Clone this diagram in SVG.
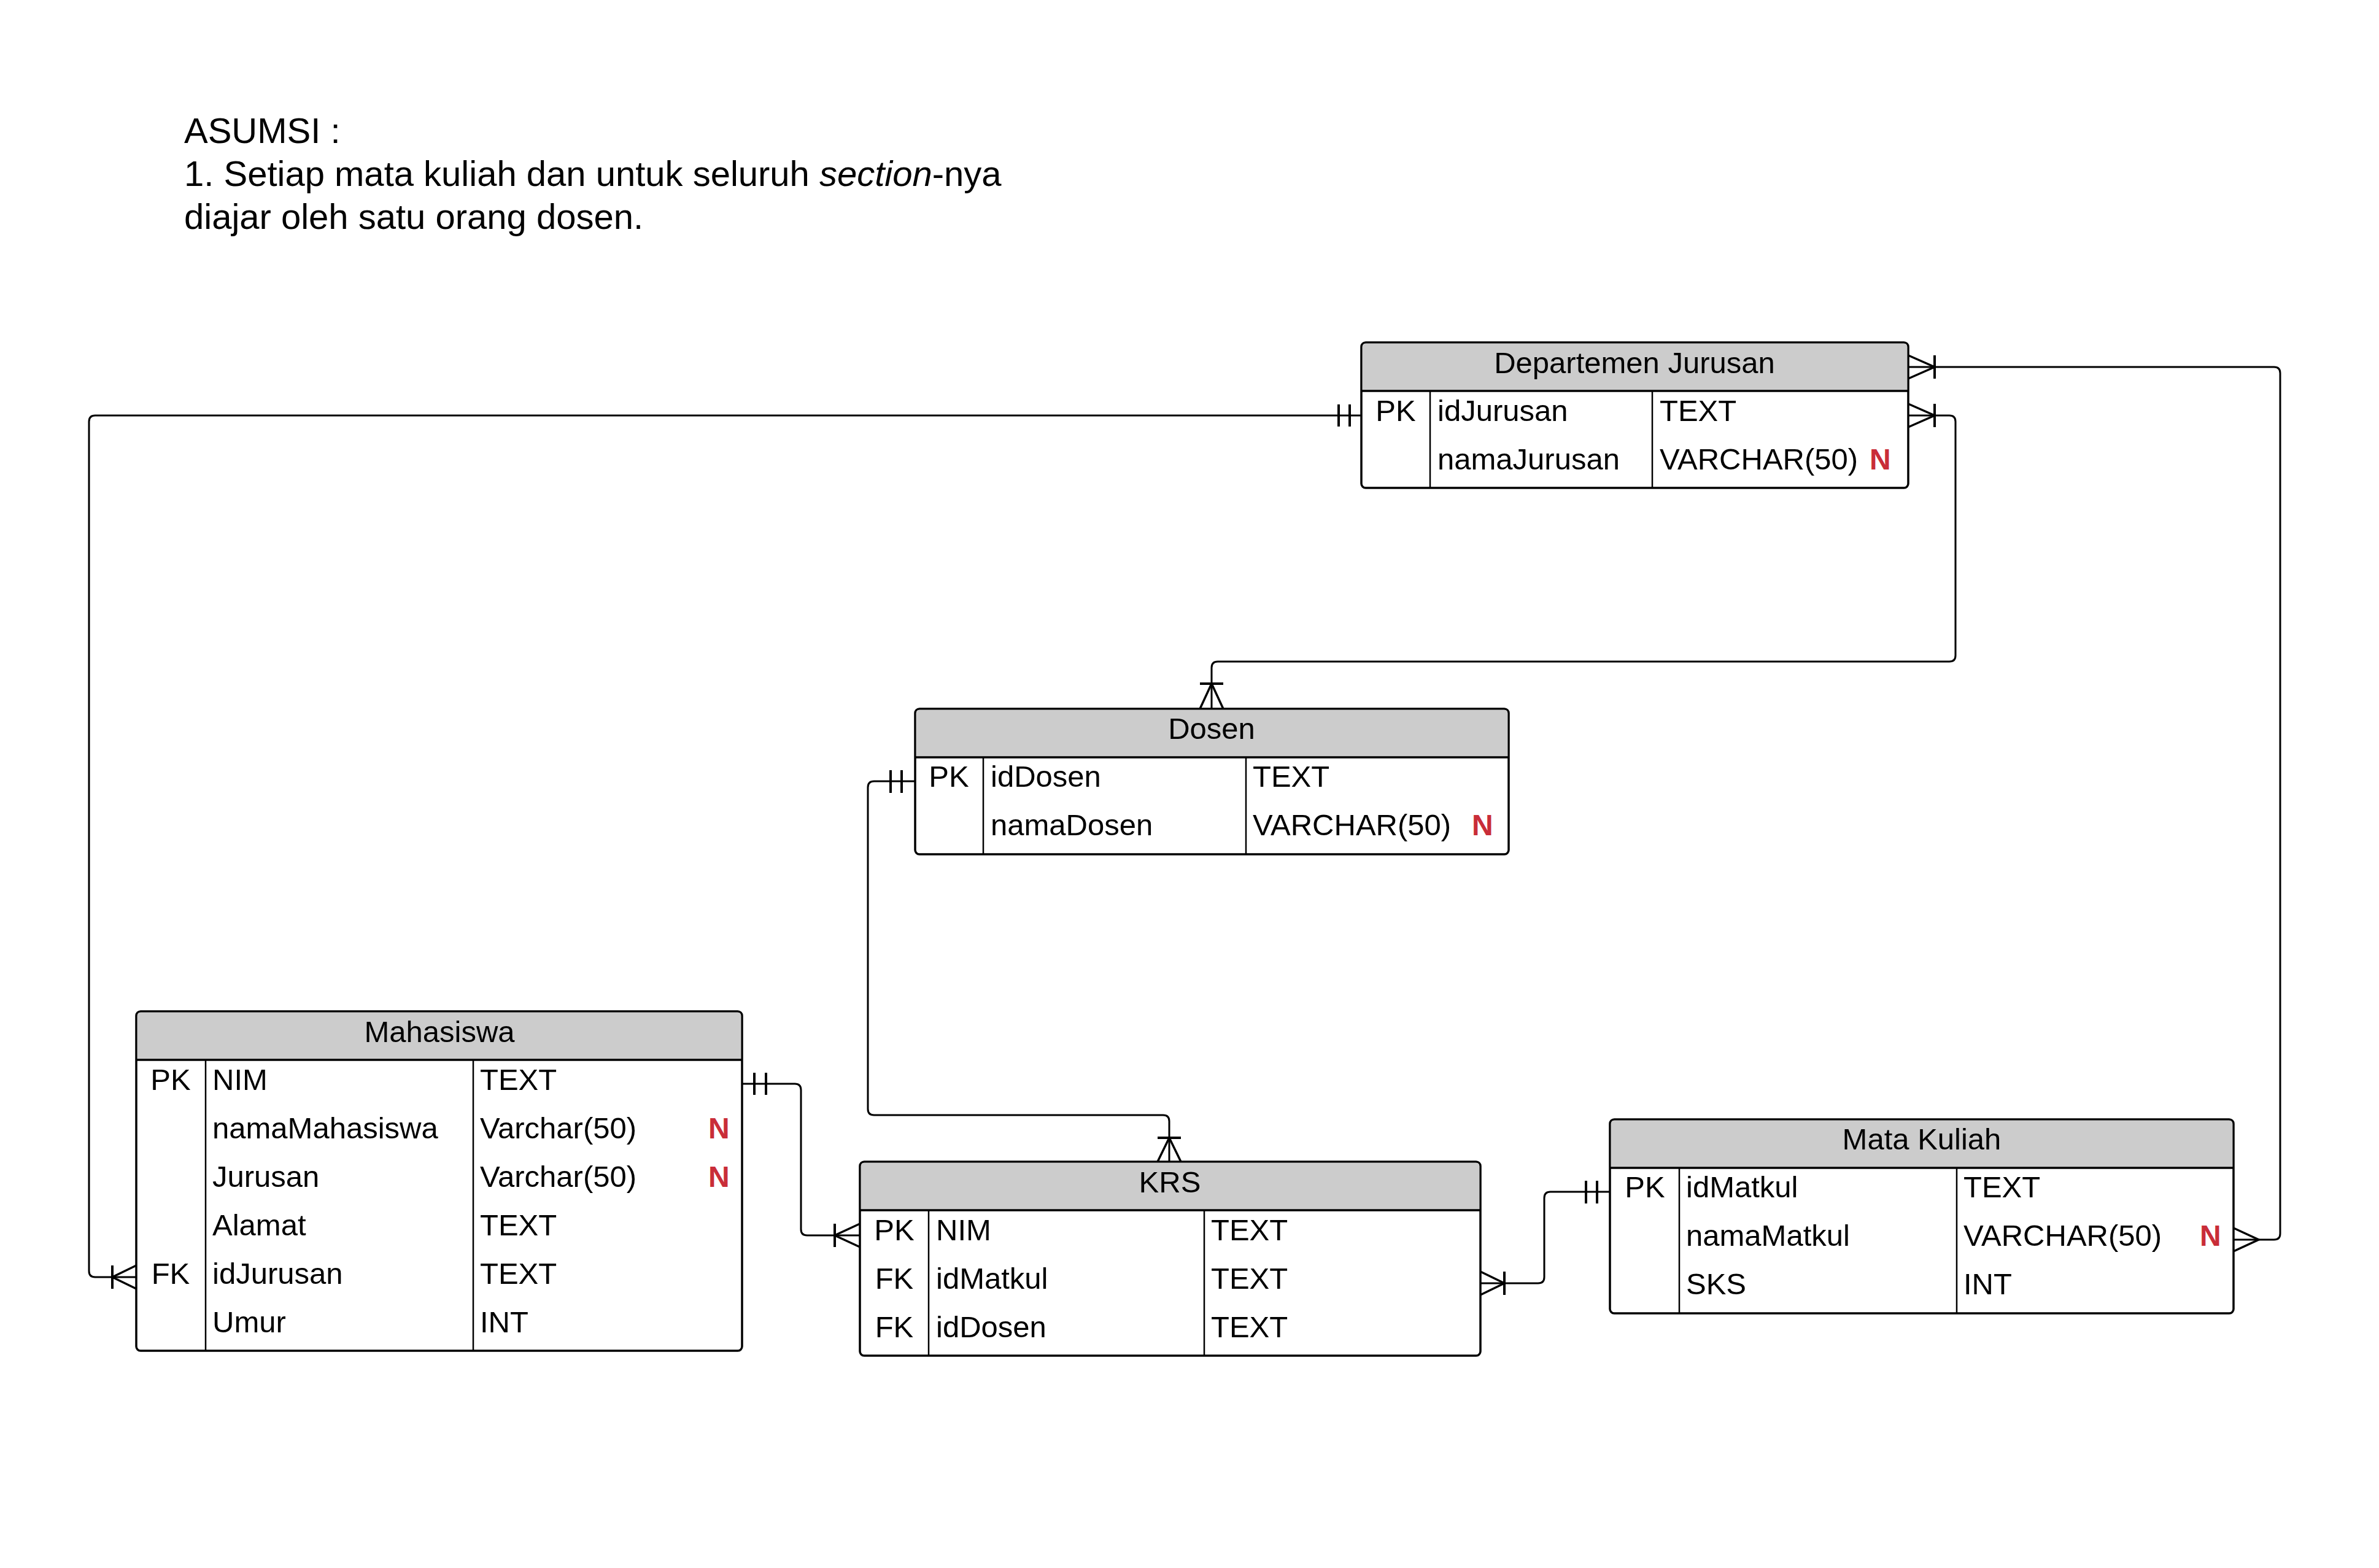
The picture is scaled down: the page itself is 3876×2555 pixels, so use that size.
<svg xmlns="http://www.w3.org/2000/svg" width="3876" height="2555" viewBox="0 0 3876 2555">
  <style>
    text { font-family: "Liberation Sans", Arial, Helvetica, sans-serif; fill: #000; }
    .note { font-size: 58px; }
    .hdr { font-size: 49px; text-anchor: middle; }
    .cell { font-size: 49px; }
    .key { font-size: 49px; text-anchor: middle; }
    .null { font-size: 48px; font-weight: bold; fill: #c92d39; }
    .box { fill: #ffffff; stroke: #000; stroke-width: 3.5; }
    .head { fill: #cccccc; stroke: none; }
    .div { stroke: #000; stroke-width: 3.5; }
    .col { stroke: #000; stroke-width: 2.5; }
    .link { fill: none; stroke: #000; stroke-width: 3; stroke-linejoin: round; }
    .bar { stroke: #000; stroke-width: 4; }
    .crow { fill: none; stroke: #000; stroke-width: 3.5; }
  </style>

  <rect x="0" y="0" width="3876" height="2555" fill="#ffffff"/>

  <!-- assumption note -->
  <g id="note">
    <text class="note" x="300" y="233">ASUMSI :</text>
    <text class="note" x="300" y="303">1. Setiap mata kuliah dan untuk seluruh <tspan font-style="italic">section</tspan>-nya</text>
    <text class="note" x="300" y="373">diajar oleh satu orang dosen.</text>
  </g>

  <!-- relationship lines -->
  <g id="connectors">
    <!-- Departemen Jurusan.idJurusan -> Mahasiswa.idJurusan -->
    <path class="link" d="M2218,677 H155 Q145,677 145,687 V2071 Q145,2081 155,2081 H222"/>
    <line class="bar" x1="2181" y1="659" x2="2181" y2="695"/>
    <line class="bar" x1="2199" y1="659" x2="2199" y2="695"/>
    <line class="bar" x1="183" y1="2062" x2="183" y2="2100"/>
    <polyline class="crow" points="222,2062 183,2081 222,2100"/>

    <!-- Departemen Jurusan.idJurusan -> Dosen -->
    <path class="link" d="M3109,677 H3176 Q3186,677 3186,687 V1068 Q3186,1078 3176,1078 H1984 Q1974,1078 1974,1088 V1155"/>
    <line class="bar" x1="3152" y1="658" x2="3152" y2="696"/>
    <polyline class="crow" points="3109,658 3152,677 3109,696"/>
    <line class="bar" x1="1955" y1="1114" x2="1993" y2="1114"/>
    <polyline class="crow" points="1955,1155 1974,1114 1993,1155"/>

    <!-- Departemen Jurusan -> Mata Kuliah -->
    <path class="link" d="M3109,598 H3705 Q3715,598 3715,608 V2010 Q3715,2020 3705,2020 H3639"/>
    <line class="bar" x1="3152" y1="579" x2="3152" y2="617"/>
    <polyline class="crow" points="3109,579 3152,598 3109,617"/>
    <polyline class="crow" points="3639,2001 3680,2020 3639,2039"/>

    <!-- Dosen.idDosen -> KRS -->
    <path class="link" d="M1491,1273 H1424 Q1414,1273 1414,1283 V1807 Q1414,1817 1424,1817 H1895 Q1905,1817 1905,1827 V1893"/>
    <line class="bar" x1="1451" y1="1255" x2="1451" y2="1292"/>
    <line class="bar" x1="1469" y1="1255" x2="1469" y2="1292"/>
    <line class="bar" x1="1886" y1="1854" x2="1924" y2="1854"/>
    <polyline class="crow" points="1886,1893 1905,1854 1924,1893"/>

    <!-- Mahasiswa.NIM -> KRS.NIM -->
    <path class="link" d="M1209,1766 H1295 Q1305,1766 1305,1776 V2003 Q1305,2013 1315,2013 H1401"/>
    <line class="bar" x1="1229" y1="1748" x2="1229" y2="1784"/>
    <line class="bar" x1="1248" y1="1748" x2="1248" y2="1784"/>
    <line class="bar" x1="1360" y1="1994" x2="1360" y2="2032"/>
    <polyline class="crow" points="1401,1994 1360,2013 1401,2032"/>

    <!-- KRS.idMatkul -> Mata Kuliah.idMatkul -->
    <path class="link" d="M2412,2091 H2506 Q2516,2091 2516,2081 V1952 Q2516,1942 2526,1942 H2623"/>
    <line class="bar" x1="2451" y1="2072" x2="2451" y2="2110"/>
    <polyline class="crow" points="2412,2072 2451,2091 2412,2110"/>
    <line class="bar" x1="2584" y1="1924" x2="2584" y2="1961"/>
    <line class="bar" x1="2602" y1="1924" x2="2602" y2="1961"/>
  </g>

  <!-- Departemen Jurusan -->
  <g id="departemen-jurusan">
    <rect class="box" x="2218" y="558" width="891" height="237" rx="7"/>
    <path class="head" d="M2225,559.75 H3102 Q3107.25,559.75 3107.25,565 V637 H2219.75 V565 Q2219.75,559.75 2225,559.75 Z"/>
    <line class="div" x1="2218" y1="637" x2="3109" y2="637"/>
    <line class="col" x1="2330" y1="637" x2="2330" y2="795"/>
    <line class="col" x1="2692" y1="637" x2="2692" y2="795"/>
    <text class="hdr" x="2663" y="608">Departemen Jurusan</text>
    <text class="key" x="2274" y="686">PK</text>
    <text class="cell" x="2342" y="686">idJurusan</text>
    <text class="cell" x="2704" y="686">TEXT</text>
    <text class="cell" x="2342" y="765">namaJurusan</text>
    <text class="cell" x="2704" y="765">VARCHAR(50)</text>
    <text class="null" x="3046" y="765">N</text>
  </g>

  <!-- Dosen -->
  <g id="dosen">
    <rect class="box" x="1491" y="1155" width="967" height="237" rx="7"/>
    <path class="head" d="M1498,1156.75 H2451 Q2456.25,1156.75 2456.25,1162 V1234 H1492.75 V1162 Q1492.75,1156.75 1498,1156.75 Z"/>
    <line class="div" x1="1491" y1="1234" x2="2458" y2="1234"/>
    <line class="col" x1="1602" y1="1234" x2="1602" y2="1392"/>
    <line class="col" x1="2030" y1="1234" x2="2030" y2="1392"/>
    <text class="hdr" x="1974" y="1204">Dosen</text>
    <text class="key" x="1546" y="1282">PK</text>
    <text class="cell" x="1614" y="1282">idDosen</text>
    <text class="cell" x="2041" y="1282">TEXT</text>
    <text class="cell" x="1614" y="1361">namaDosen</text>
    <text class="cell" x="2041" y="1361">VARCHAR(50)</text>
    <text class="null" x="2398" y="1361">N</text>
  </g>

  <!-- Mahasiswa -->
  <g id="mahasiswa">
    <rect class="box" x="222" y="1648" width="987" height="553" rx="7"/>
    <path class="head" d="M229,1649.75 H1202 Q1207.25,1649.75 1207.25,1655 V1727 H223.75 V1655 Q223.75,1649.75 229,1649.75 Z"/>
    <line class="div" x1="222" y1="1727" x2="1209" y2="1727"/>
    <line class="col" x1="335" y1="1727" x2="335" y2="2201"/>
    <line class="col" x1="771" y1="1727" x2="771" y2="2201"/>
    <text class="hdr" x="716" y="1698">Mahasiswa</text>
    <text class="key" x="278" y="1776">PK</text>
    <text class="cell" x="346" y="1776">NIM</text>
    <text class="cell" x="782" y="1776">TEXT</text>
    <text class="cell" x="346" y="1855">namaMahasiswa</text>
    <text class="cell" x="782" y="1855">Varchar(50)</text>
    <text class="null" x="1154" y="1855">N</text>
    <text class="cell" x="346" y="1934">Jurusan</text>
    <text class="cell" x="782" y="1934">Varchar(50)</text>
    <text class="null" x="1154" y="1934">N</text>
    <text class="cell" x="346" y="2013">Alamat</text>
    <text class="cell" x="782" y="2013">TEXT</text>
    <text class="key" x="278" y="2092">FK</text>
    <text class="cell" x="346" y="2092">idJurusan</text>
    <text class="cell" x="782" y="2092">TEXT</text>
    <text class="cell" x="346" y="2171">Umur</text>
    <text class="cell" x="782" y="2171">INT</text>
  </g>

  <!-- KRS -->
  <g id="krs">
    <rect class="box" x="1401" y="1893" width="1011" height="316" rx="7"/>
    <path class="head" d="M1408,1894.75 H2405 Q2410.25,1894.75 2410.25,1900 V1972 H1402.75 V1900 Q1402.75,1894.75 1408,1894.75 Z"/>
    <line class="div" x1="1401" y1="1972" x2="2412" y2="1972"/>
    <line class="col" x1="1513" y1="1972" x2="1513" y2="2209"/>
    <line class="col" x1="1962" y1="1972" x2="1962" y2="2209"/>
    <text class="hdr" x="1906" y="1943">KRS</text>
    <text class="key" x="1457" y="2021">PK</text>
    <text class="cell" x="1525" y="2021">NIM</text>
    <text class="cell" x="1973" y="2021">TEXT</text>
    <text class="key" x="1457" y="2100">FK</text>
    <text class="cell" x="1525" y="2100">idMatkul</text>
    <text class="cell" x="1973" y="2100">TEXT</text>
    <text class="key" x="1457" y="2179">FK</text>
    <text class="cell" x="1525" y="2179">idDosen</text>
    <text class="cell" x="1973" y="2179">TEXT</text>
  </g>

  <!-- Mata Kuliah -->
  <g id="mata-kuliah">
    <rect class="box" x="2623" y="1824" width="1016" height="316" rx="7"/>
    <path class="head" d="M2630,1825.75 H3632 Q3637.25,1825.75 3637.25,1831 V1903 H2624.75 V1831 Q2624.75,1825.75 2630,1825.75 Z"/>
    <line class="div" x1="2623" y1="1903" x2="3639" y2="1903"/>
    <line class="col" x1="2736" y1="1903" x2="2736" y2="2140"/>
    <line class="col" x1="3188" y1="1903" x2="3188" y2="2140"/>
    <text class="hdr" x="3131" y="1873">Mata Kuliah</text>
    <text class="key" x="2680" y="1951">PK</text>
    <text class="cell" x="2747" y="1951">idMatkul</text>
    <text class="cell" x="3199" y="1951">TEXT</text>
    <text class="cell" x="2747" y="2030">namaMatkul</text>
    <text class="cell" x="3199" y="2030">VARCHAR(50)</text>
    <text class="null" x="3584" y="2030">N</text>
    <text class="cell" x="2747" y="2109">SKS</text>
    <text class="cell" x="3199" y="2109">INT</text>
  </g>
</svg>
